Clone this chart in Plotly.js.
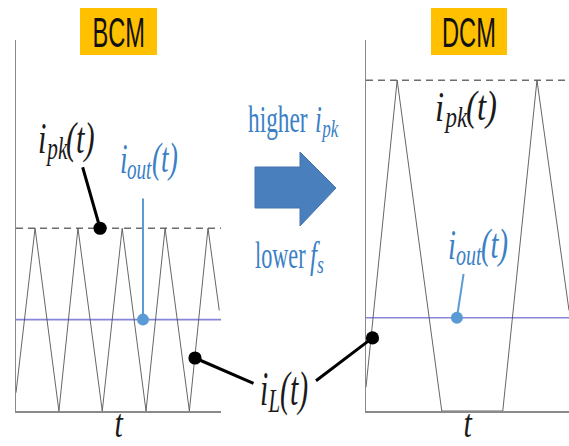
<!DOCTYPE html>
<html>
<head>
<meta charset="utf-8">
<script src="https://cdn.plot.ly/plotly-3.0.1.min.js"></script>
<style>
  html, body { margin: 0; padding: 0; background: #ffffff; }
  #chart { width: 569px; height: 446px; }
  .xtitle, .x2title { transform-box: fill-box; transform-origin: center; transform: translateY(7px) scaleX(0.75); }
</style>
</head>
<body>
<div id="chart"></div>
<script>
// ---------------- data ----------------
// time in switching periods of the BCM case, current normalised to the BCM peak
const bcmTime    = [0, 0.44, 0.99, 1.43, 1.99, 2.45, 3.00, 3.44, 4.00, 4.43, 4.69];
const bcmCurrent = [0.10, 1.00, 0, 1.00, 0, 1.00, 0, 1.00, 0, 1.00, 0.55];
const dcmTime    = [0, 0.72, 1.75, 3.16, 3.95, 4.69];
const dcmCurrent = [0.13, 1.81, 0, 0, 1.81, 0.55];
const peakLevels = [1.00, 1.81];     // i_pk : BCM, DCM
const outLevels  = [0.50, 0.51];     // i_out: BCM, DCM
const timeSpan   = [4.73, 4.69];     // visible time window: BCM, DCM
const currentMax = 2.03;
const panelTitles = ['BCM', 'DCM'];
// points the call-out dots sit on: [time, current]
const dotBcmPeak = [1.94, 1.00];
const dotBcmOut  = [2.93, 0.50];
const dotBcmIL   = [4.13, 0.29];
const dotDcmIL   = [0.15, 0.40];
const dotDcmOut  = [2.10, 0.51];

// ---------------- helpers ----------------
const W = 569, H = 446;
const px = v => v / W;
const py = v => 1 - v / H;

const waveColor = '#555555';
const peakColor = '#6e6e6e';
const outColor  = '#8585dc';
const blueText  = '#3b7fc6';
const pointBlue = '#5b9bd5';
const serif = 'Liberation Serif, Times New Roman, serif';
const sans  = 'Liberation Sans, Arial, sans-serif';

function panelTraces(t, i, span, pk, out, xa, ya) {
  return [
    { x: [0, span], y: [pk, pk], xaxis: xa, yaxis: ya, mode: 'lines',
      line: { color: peakColor, width: 1.5, dash: '7px,5px' }, hoverinfo: 'skip' },
    { x: [0, span], y: [out, out], xaxis: xa, yaxis: ya, mode: 'lines',
      line: { color: outColor, width: 1.6 }, hoverinfo: 'skip' },
    { x: t, y: i, xaxis: xa, yaxis: ya, mode: 'lines',
      line: { color: waveColor, width: 0.9 }, hoverinfo: 'skip' }
  ];
}

const traces = [
  ...panelTraces(bcmTime, bcmCurrent, timeSpan[0], peakLevels[0], outLevels[0], 'x', 'y'),
  ...panelTraces(dcmTime, dcmCurrent, timeSpan[1], peakLevels[1], outLevels[1], 'x2', 'y2')
];

function xAxis(domain, span, anchor) {
  return {
    domain: domain, range: [0, span], anchor: anchor, layer: 'above traces',
    showline: true, linecolor: '#8a8a8a', linewidth: 1.5, mirror: false,
    showgrid: false, zeroline: false, showticklabels: false, ticks: '',
    fixedrange: true,
    title: { text: 't', font: { family: serif, size: 40, color: '#1a1a1a', style: 'italic' }, standoff: 7 }
  };
}
function yAxis(anchor) {
  return {
    domain: [py(411), py(40)], range: [0, currentMax], anchor: anchor, layer: 'above traces',
    showline: true, linecolor: '#8a8a8a', linewidth: 1.5, mirror: false,
    showgrid: false, zeroline: false, showticklabels: false, ticks: '',
    fixedrange: true
  };
}

// ---------------- texts ----------------
const annotations = [];
const textScales = [];   // horizontal squeeze of each text, applied after drawing

// x: left edge (or centre), baseline: pixel baseline
function addText(text, x, baseline, size, color, scale, o) {
  o = o || {};
  const family = o.family || serif;
  const k = family === sans ? 0.3465 : 0.338;   // baseline -> box centre
  annotations.push({
    text: text, xref: 'paper', yref: 'paper',
    x: px(x), y: py(baseline - k * size),
    xanchor: o.anchor || 'left', yanchor: 'middle', showarrow: false,
    borderpad: 0, borderwidth: 0,
    font: { family: family, size: size, color: color, style: o.italic ? 'italic' : 'normal' }
  });
  textScales.push({ s: scale, origin: o.anchor === 'center' ? 'center' : 'left center' });
}

const italicW = { i: .278, p: .5, k: .444, o: .5, u: .5, t: .278, L: .556, f: .278, s: .389, '(': .333, ')': .333 };
const widthOf = str => str.split('').reduce((a, c) => a + (italicW[c] || .5), 0);

// i_sub(t) built from pieces: base, lowered subscript, tail
function mathLabel(base, sub, tail, cx, baseline, F, scale, color) {
  const subF = 0.7 * F;
  const wBase = widthOf(base) * F, wSub = widthOf(sub) * subF, wTail = widthOf(tail) * F;
  const left = cx - (wBase + wSub + wTail) * scale / 2;
  addText(base, left, baseline, F, color, scale, { italic: true });
  addText(sub, left + wBase * scale, baseline + 0.15 * F, subF, color, scale, { italic: true });
  if (tail) addText(tail, left + (wBase + wSub) * scale, baseline, F, color, scale, { italic: true });
}

addText(panelTitles[0], 118.5, 47, 43, '#111111', 0.55, { family: sans, anchor: 'center' });
addText(panelTitles[1], 469, 47, 43, '#111111', 0.55, { family: sans, anchor: 'center' });
mathLabel('i', 'pk', '(t)', 66.5, 153, 44, 0.69, '#1a1a1a');
mathLabel('i', 'pk', '(t)', 466, 121, 42, 0.78, '#1a1a1a');
mathLabel('i', 'out', '(t)', 148.5, 173, 42, 0.65, blueText);
mathLabel('i', 'out', '(t)', 478, 259, 42, 0.68, blueText);
mathLabel('i', 'L', '(t)', 284, 405, 48, 0.62, '#1a1a1a');
addText('higher', 248, 132, 37, blueText, 0.63);
mathLabel('i', 'pk', '', 326, 132, 37, 0.66, blueText);
addText('lower', 255, 268, 37, blueText, 0.6);
mathLabel('f', 's', '', 317, 268, 37, 0.68, blueText);

// call-out: a line from a pixel offset (ax, ay) to a dot sitting on a data point
function callout(xref, yref, pt, ax, ay, color, width, size) {
  annotations.push({ text: ' ', xref: xref, yref: yref, x: pt[0], y: pt[1], ax: ax, ay: ay,
           showarrow: true, arrowhead: 6, arrowsize: size, arrowwidth: width,
           arrowcolor: color, standoff: 0, startstandoff: 0, font: { size: 1 } });
  textScales.push(null);
}
callout('x', 'y', dotBcmPeak, -18, -63, '#000000', 3, 1.1);
callout('x', 'y', dotBcmOut, 0, -123, pointBlue, 2, 1.5);
callout('x', 'y', dotBcmIL, 60, 26, '#000000', 3, 1.1);
callout('x2', 'y2', dotDcmIL, -58, 44, '#000000', 3, 1.1);
callout('x2', 'y2', dotDcmOut, 7, -46, pointBlue, 2, 1.5);

function boxShape(x0, y0, x1, y1) {
  return { type: 'rect', xref: 'paper', yref: 'paper', x0: px(x0), x1: px(x1), y0: py(y1), y1: py(y0),
           fillcolor: '#ffc000', line: { width: 0 }, layer: 'below' };
}
const arrowPts = [[255,167],[300,167],[300,152],[336,188],[300,226],[300,208],[255,208]];
const arrowPath = 'M' + arrowPts.map(p => px(p[0]) + ',' + py(p[1])).join(' L') + ' Z';

const shapes = [
  boxShape(80, 8, 157, 55),
  boxShape(431, 8, 507, 55),
  { type: 'path', xref: 'paper', yref: 'paper', path: arrowPath,
    fillcolor: '#4a7fbd', line: { color: '#4274b0', width: 1 } }
];

const layout = {
  width: W, height: H,
  margin: { l: 0, r: 0, t: 0, b: 0, pad: 0 },
  paper_bgcolor: '#ffffff', plot_bgcolor: '#ffffff',
  showlegend: false,
  xaxis: xAxis([px(16), px(221)], timeSpan[0], 'y'),
  yaxis: yAxis('x'),
  xaxis2: xAxis([px(366), 1], timeSpan[1], 'y2'),
  yaxis2: yAxis('x2'),
  annotations: annotations,
  shapes: shapes
};

Plotly.newPlot('chart', traces, layout, { displayModeBar: false, staticPlot: true }).then(gd => {
  gd.querySelectorAll('g.annotation').forEach(g => {
    const sc = textScales[+g.getAttribute('data-index')];
    const t = g.querySelector('.annotation-text');
    if (!sc || !t) return;
    t.style.transformBox = 'fill-box';
    t.style.transformOrigin = sc.origin;
    t.style.transform = 'scaleX(' + sc.s + ')';
  });
});
</script>
</body>
</html>
